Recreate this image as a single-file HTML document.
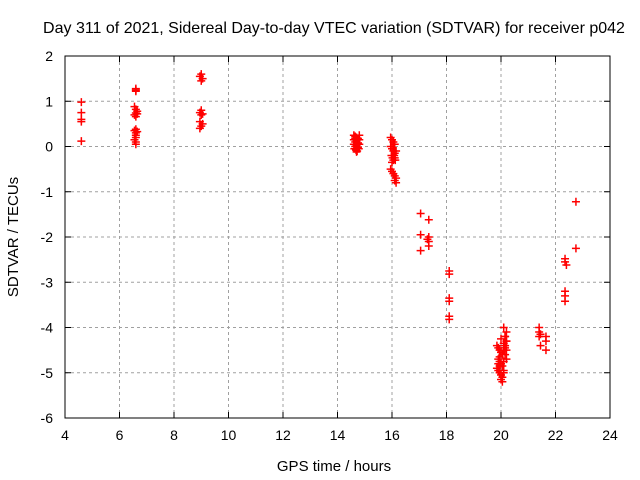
<!DOCTYPE html>
<html><head><meta charset="utf-8"><style>
body{margin:0;background:#fff;}
svg{display:block;font-family:"Liberation Sans",sans-serif;}
</style></head><body>
<svg id="c" width="640" height="480"></svg>
<script>
const xTicks=[4,6,8,10,12,14,16,18,20,22,24];
const yTicks=[2,1,0,-1,-2,-3,-4,-5,-6];
const ptX=[4.6,4.6,4.6,4.6,4.6,
6.6,6.6,6.6,6.55,6.6,6.65,6.6,6.55,6.6,6.65,6.6,6.55,6.6,6.65,6.6,6.6,6.55,6.6,6.6,
9.0,8.95,9.05,9.0,9.0,8.95,9.05,9.0,8.95,9.05,9.0,8.95,
14.6,14.65,14.7,14.75,14.8,14.6,14.65,14.7,14.75,14.8,14.6,14.65,14.7,14.75,14.8,14.62,14.68,14.72,14.78,14.65,14.7,
15.95,16.0,16.05,16.1,15.95,16.0,16.05,16.1,16.15,15.98,16.02,16.08,16.12,16.0,16.05,16.1,15.95,16.0,16.05,16.1,16.15,16.1,16.15,
17.05,17.05,17.05,17.35,17.35,17.35,17.35,17.3,
18.1,18.1,18.1,18.1,18.1,18.1,
19.85,19.9,19.95,20.0,20.05,20.1,20.15,20.2,19.9,19.95,20.0,20.05,20.1,20.15,20.2,19.85,19.9,19.95,20.0,20.05,20.1,19.9,19.95,20.0,20.05,20.1,20.15,20.2,20.1,20.15,20.2,20.15,20.2,20.1,19.95,20.0,
21.4,21.4,21.45,21.4,21.45,21.65,21.65,21.65,
22.35,22.35,22.4,22.35,22.35,22.35,
22.75,22.75];
const ptY=[0.98,0.75,0.6,0.55,0.12,
1.28,1.25,1.22,0.88,0.82,0.78,0.74,0.7,0.66,0.72,0.38,0.35,0.3,0.33,0.25,0.2,0.15,0.1,0.05,
1.6,1.55,1.5,1.45,0.8,0.75,0.72,0.7,0.55,0.5,0.45,0.4,
0.25,0.22,0.2,0.18,0.25,0.15,0.1,0.12,0.08,0.15,0.05,0.0,0.02,-0.02,0.05,-0.05,-0.08,-0.1,-0.05,0.18,-0.12,
0.2,0.15,0.1,0.05,0.0,-0.05,-0.1,-0.15,-0.1,-0.2,-0.25,-0.2,-0.3,-0.35,-0.3,-0.25,-0.5,-0.55,-0.6,-0.65,-0.7,-0.75,-0.8,
-1.48,-1.95,-2.3,-1.62,-2.0,-2.1,-2.2,-2.05,
-2.75,-2.82,-3.35,-3.42,-3.75,-3.82,
-4.4,-4.45,-4.5,-4.55,-4.6,-4.5,-4.4,-4.3,-4.7,-4.75,-4.8,-4.85,-4.75,-4.6,-4.5,-4.9,-4.95,-5.0,-5.05,-5.1,-5.0,-4.8,-4.85,-5.15,-5.2,-4.95,-4.2,-4.1,-4.0,-4.2,-4.3,-4.45,-4.7,-4.35,-4.65,-4.25,
-4.0,-4.1,-4.15,-4.2,-4.4,-4.2,-4.3,-4.5,
-2.48,-2.55,-2.62,-3.2,-3.3,-3.42,
-1.22,-2.25];
const L=65,R=610,T=56,B=418;
const sx=v=>L+(v-4)/(24-4)*(R-L);
const sy=v=>T+(2-v)/(8)*(B-T);
const svg=document.getElementById('c');const NS='http://www.w3.org/2000/svg';
function mk(t,a,p){const e=document.createElementNS(NS,t);for(const k in a)e.setAttribute(k,a[k]);(p||svg).appendChild(e);return e;}
xTicks.forEach(v=>{const x=sx(v);
if(v>4&&v<24){const g=mk('line',{x1:x,x2:x,y1:T,y2:B,stroke:'#a0a0a0','stroke-dasharray':'3,3'});

}
mk('line',{x1:x,x2:x,y1:B,y2:B-6,stroke:'#000'});mk('line',{x1:x,x2:x,y1:T,y2:T+6,stroke:'#000'});
const t=mk('text',{x:x,y:B+22,'text-anchor':'middle','font-size':'14'});t.textContent=v;

});
yTicks.forEach(v=>{const y=sy(v);
if(v<2&&v>-6){const g=mk('line',{x1:L,x2:R,y1:y,y2:y,stroke:'#a0a0a0','stroke-dasharray':'3,3'});

}
mk('line',{x1:L,x2:L+6,y1:y,y2:y,stroke:'#000'});mk('line',{x1:R,x2:R-6,y1:y,y2:y,stroke:'#000'});
const t=mk('text',{x:L-12,y:y+5,'text-anchor':'end','font-size':'14'});t.textContent=v;

});
const fr=mk('rect',{x:L,y:T,width:R-L,height:B-T,fill:'none',stroke:'#000'});


for(let i=0;i<ptX.length;i++){const x=sx(ptX[i]),y=sy(ptY[i]);
const p=mk('path',{d:`M${x-4},${y}H${x+4}M${x},${y-4}V${y+4}`,stroke:'#f00','stroke-width':'1.5'});

}
</script>
<svg style="position:absolute;left:0;top:0" width="640" height="480">
<text x="334" y="33" text-anchor="middle" font-size="16" font-family="Liberation Sans">Day 311 of 2021, Sidereal Day-to-day VTEC variation (SDTVAR) for receiver p042</text>
<text x="334" y="471" text-anchor="middle" font-size="15" font-family="Liberation Sans">GPS time / hours</text>
<text x="18" y="237" text-anchor="middle" font-size="15" font-family="Liberation Sans" transform="rotate(-90 18 237)">SDTVAR / TECUs</text>
</svg>
</body></html>
